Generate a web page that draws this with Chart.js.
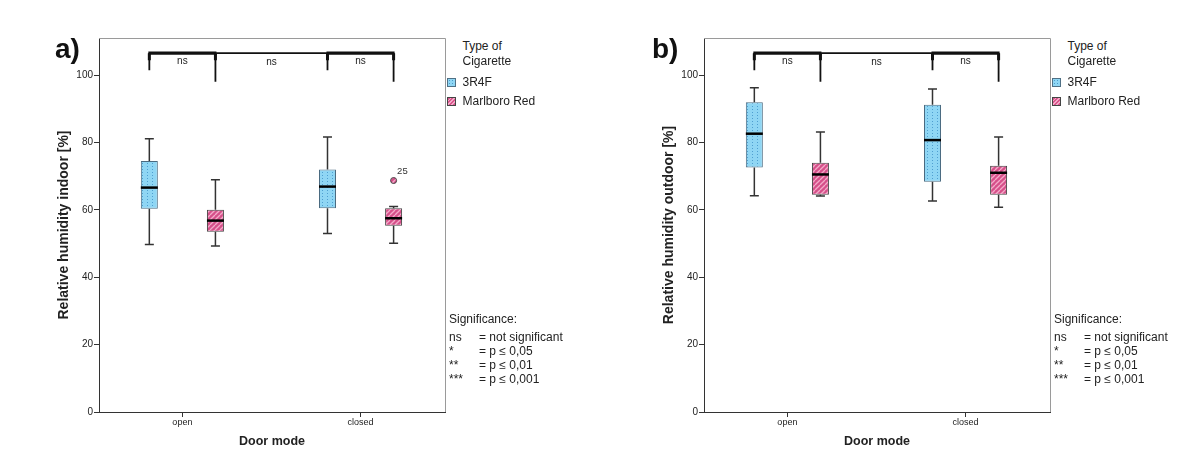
<!DOCTYPE html>
<html>
<head>
<meta charset="utf-8">
<script src="https://cdn.jsdelivr.net/npm/chart.js@4.4.1/dist/chart.umd.min.js"></script>
<style>
  html, body { margin: 0; padding: 0; background: #fff; }
  body { width: 1200px; height: 462px; overflow: hidden; position: relative;
         font-family: "Liberation Sans", Arial, sans-serif; color: #222; }
  .panel { position: absolute; top: 0; width: 600px; height: 462px; }
  .panel canvas { position: absolute; left: 0; top: 0; }
  .letter { position: absolute; top: 35px; font-weight: bold; font-size: 28px; line-height: 28px; color: #111; }
  .txt { position: absolute; font-size: 12px; line-height: 14px; white-space: nowrap; color: #222; }
  .sw { position: absolute; width: 7px; height: 7px; }
  .sw.blue { background-color: #8fd6f4; border: 1px solid #4f7085;
             background-image: radial-gradient(circle, #4d9ccc 0.6px, transparent 0.9px); background-size: 3px 3px; }
  .sw.pink { border: 1px solid #444;
             background: repeating-linear-gradient(135deg, #d9558c 0 1.6px, #f3a9c8 1.6px 2.6px); }
</style>
</head>
<body>
<div class="panel" id="panelA" style="left:0px">
  <canvas id="chartA" width="460" height="462"></canvas>
  <div class="letter" style="left:55px">a)</div>
</div>
<div class="panel" id="panelB" style="left:605px">
  <canvas id="chartB" width="460" height="462"></canvas>
  <div class="letter" style="left:47px">b)</div>
</div>
<script>
// ---------- data ----------
const categories = ['open', 'closed'];
const seriesNames = ['3R4F', 'Marlboro Red'];
const yTickValues = [0, 20, 40, 60, 80, 100];
// box statistics per door mode: [min, q1, median, q3, max]
const indoor3R4F      = [[49.7, 60.3, 66.6, 74.5, 81.1], [53.0, 60.5, 66.9, 72.0, 81.6]];
const indoorMarlboro  = [[49.3, 53.5, 56.8, 60.0, 68.9], [50.1, 55.3, 57.5, 60.5, 61.0]];
const outdoor3R4F     = [[64.2, 72.6, 82.6, 91.9, 96.2], [62.6, 68.3, 80.7, 91.2, 95.9]];
const outdoorMarlboro = [[64.1, 64.5, 70.5, 74.0, 83.1], [60.8, 64.5, 71.0, 73.1, 81.6]];
// outliers: [seriesIndex, categoryIndex, value, case label]
const indoorOutliers  = [[1, 1, 68.7, '25']];
const outdoorOutliers = [];
// significance labels: open pair, between modes, closed pair
const significanceLabels = ['ns', 'ns', 'ns'];
const legendTitle = ['Type of', 'Cigarette'];
const noteTitle = 'Significance:';
const noteSymbols = ['ns', '*', '**', '***'];
const noteMeanings = ['= not significant', '= p \u2264 0,05', '= p \u2264 0,01', '= p \u2264 0,001'];

// ---------- annotation levels (axis units) ----------
const BRACKET_TOP = 106.5, LEFT_TICK_END = 101.4, RIGHT_TICK_END = 98.0, NS_LEVEL = 104.0;
// category axis extent (in category index units) as used by the original layout
const X_START = -0.468, X_RANGE = 1.942;

Chart.defaults.font.family = '"Liberation Sans", Arial, sans-serif';
Chart.defaults.color = '#222';

function makePatterns(ctx) {
  const b = document.createElement('canvas'); b.width = 5; b.height = 3;
  const bg = b.getContext('2d');
  bg.fillStyle = '#8fd6f4'; bg.fillRect(0, 0, 5, 3);
  bg.fillStyle = '#4f9fd0'; bg.fillRect(2, 1, 1, 1);
  const p = document.createElement('canvas'); p.width = 5; p.height = 5;
  const pg = p.getContext('2d');
  pg.fillStyle = '#d6508a'; pg.fillRect(0, 0, 5, 5);
  pg.strokeStyle = '#f4aac9'; pg.lineWidth = 1.3;
  for (const o of [-5, 0, 5]) { pg.beginPath(); pg.moveTo(o, 5); pg.lineTo(o + 5, 0); pg.stroke(); }
  return [ctx.createPattern(b, 'repeat'), ctx.createPattern(p, 'repeat')];
}

function makePanel(canvasId, panelId, yTitle, stats, outliers) {
  const ctx = document.getElementById(canvasId).getContext('2d');
  const patterns = makePatterns(ctx);
  const borders = ['#4a6a80', '#444'];

  const extras = {
    id: 'boxExtras',
    beforeDatasetsDraw(chart) {
      const c = chart.ctx, a = chart.chartArea, y = chart.scales.y;
      c.save();
      c.strokeStyle = '#9a9a9a'; c.lineWidth = 1;
      c.beginPath(); c.moveTo(a.left, a.top + 0.5); c.lineTo(a.right + 0.5, a.top + 0.5); c.lineTo(a.right + 0.5, a.bottom); c.stroke();
      c.strokeStyle = '#333'; c.lineWidth = 1.5;
      stats.forEach((s, i) => {
        chart.getDatasetMeta(i).data.forEach((el, j) => {
          const v = s[j], x = el.x;
          const yMin = y.getPixelForValue(v[0]), yMax = y.getPixelForValue(v[4]);
          const yQ1 = y.getPixelForValue(v[1]), yQ3 = y.getPixelForValue(v[3]);
          c.beginPath();
          c.moveTo(x, yQ3); c.lineTo(x, yMax);
          c.moveTo(x, yQ1); c.lineTo(x, yMin);
          c.moveTo(x - 4.5, yMax); c.lineTo(x + 4.5, yMax);
          c.moveTo(x - 4.5, yMin); c.lineTo(x + 4.5, yMin);
          c.stroke();
        });
      });
      c.restore();
    },
    afterDatasetsDraw(chart) {
      const c = chart.ctx, y = chart.scales.y;
      c.save();
      c.strokeStyle = '#000'; c.lineWidth = 2.5;
      stats.forEach((s, i) => {
        chart.getDatasetMeta(i).data.forEach((el, j) => {
          const ym = y.getPixelForValue(s[j][2]);
          c.beginPath(); c.moveTo(el.x - el.width / 2, ym); c.lineTo(el.x + el.width / 2, ym); c.stroke();
        });
      });
      outliers.forEach(o => {
        const el = chart.getDatasetMeta(o[0]).data[o[1]];
        const yp = y.getPixelForValue(o[2]);
        c.beginPath(); c.arc(el.x, yp, 3, 0, Math.PI * 2);
        c.fillStyle = patterns[o[0]]; c.fill();
        c.strokeStyle = '#444'; c.lineWidth = 1; c.stroke();
        c.fillStyle = '#333'; c.font = '9.5px "Liberation Sans", Arial, sans-serif';
        c.textAlign = 'left'; c.textBaseline = 'middle';
        c.fillText(o[3], el.x + 3.5, yp - 9);
      });
      const m0 = chart.getDatasetMeta(0).data, m1 = chart.getDatasetMeta(1).data;
      const yTop = y.getPixelForValue(BRACKET_TOP);
      const yL = y.getPixelForValue(LEFT_TICK_END), yR = y.getPixelForValue(RIGHT_TICK_END);
      const yNs = y.getPixelForValue(NS_LEVEL);
      c.strokeStyle = '#111';
      c.fillStyle = '#222'; c.font = '10px "Liberation Sans", Arial, sans-serif';
      c.textAlign = 'center'; c.textBaseline = 'middle';
      categories.forEach((cat, j) => {
        const xL = m0[j].x, xR = m1[j].x;
        c.lineWidth = 3.2;
        c.beginPath(); c.moveTo(xL - 1, yTop); c.lineTo(xR + 1, yTop); c.stroke();
        c.lineWidth = 3; c.beginPath();
        c.moveTo(xL, yTop); c.lineTo(xL, yTop + 7);
        c.moveTo(xR, yTop); c.lineTo(xR, yTop + 7); c.stroke();
        c.lineWidth = 1.8; c.beginPath();
        c.moveTo(xL, yTop); c.lineTo(xL, yL);
        c.moveTo(xR, yTop); c.lineTo(xR, yR); c.stroke();
        c.fillText(significanceLabels[j === 0 ? 0 : 2], (xL + xR) / 2, yNs);
      });
      c.lineWidth = 1.6;
      c.beginPath(); c.moveTo(m1[0].x, yTop); c.lineTo(m0[1].x, yTop); c.stroke();
      c.fillText(significanceLabels[1], (m1[0].x + m0[1].x) / 2, yNs + 1);
      c.restore();
    }
  };

  new Chart(ctx, {
    type: 'bar',
    data: {
      labels: categories,
      datasets: stats.map((s, i) => ({
        label: seriesNames[i],
        data: s.map(v => [v[1], v[3]]),
        backgroundColor: patterns[i],
        borderColor: borders[i],
        borderWidth: 1,
        borderSkipped: false,
        categoryPercentage: 0.742,
        barPercentage: 0.257
      }))
    },
    options: {
      responsive: false,
      animation: false,
      devicePixelRatio: 1,
      layout: { padding: { left: 53, top: 38, right: 15, bottom: 0 } },
      plugins: { legend: { display: false }, tooltip: { enabled: false } },
      scales: {
        x: {
          grid: { offset: false, drawOnChartArea: false, drawTicks: true, tickLength: 5, color: '#333' },
          border: { display: true, color: '#333', width: 1 },
          ticks: { font: { size: 9 }, color: '#222', padding: 0, maxRotation: 0 },
          title: { display: true, text: 'Door mode', font: { size: 12.5, weight: 'bold' }, color: '#222', padding: { top: 0, bottom: 12.5 } },
          afterFit(s) { s.height = 50; },
          afterUpdate(s) { s._startValue = X_START; s._valueRange = X_RANGE; }
        },
        y: {
          min: 0, max: 111,
          afterBuildTicks(s) { s.ticks = yTickValues.map(v => ({ value: v })); },
          grid: { drawOnChartArea: false, drawTicks: true, tickLength: 5, color: '#333' },
          border: { display: true, color: '#333', width: 1 },
          ticks: { font: { size: 10 }, color: '#222', padding: 1 },
          title: { display: true, text: yTitle, font: { size: 14, weight: 'bold' }, color: '#222', padding: { top: 3, bottom: 0 } },
          afterFit(s) { s.width = 46; }
        }
      }
    },
    plugins: [extras]
  });

  const panel = document.getElementById(panelId);
  const add = (cls, text, left, top) => {
    const d = document.createElement('div');
    d.className = cls; if (text !== null) d.textContent = text;
    d.style.left = left + 'px'; d.style.top = top + 'px';
    panel.appendChild(d);
  };
  add('txt', legendTitle[0], 462.5, 39);
  add('txt', legendTitle[1], 462.5, 53.7);
  add('sw blue', null, 446.5, 77.5);
  add('txt', seriesNames[0], 462.5, 74.7);
  add('sw pink', null, 446.5, 97);
  add('txt', seriesNames[1], 462.5, 94);
  add('txt', noteTitle, 449, 312);
  const noteY = [329.7, 344, 358, 372];
  noteSymbols.forEach((s, i) => {
    add('txt', s, 449, noteY[i]);
    add('txt', noteMeanings[i], 479, noteY[i]);
  });
}

makePanel('chartA', 'panelA', 'Relative humidity indoor [%]', [indoor3R4F, indoorMarlboro], indoorOutliers);
makePanel('chartB', 'panelB', 'Relative humidity outdoor [%]', [outdoor3R4F, outdoorMarlboro], outdoorOutliers);
</script>
</body>
</html>
